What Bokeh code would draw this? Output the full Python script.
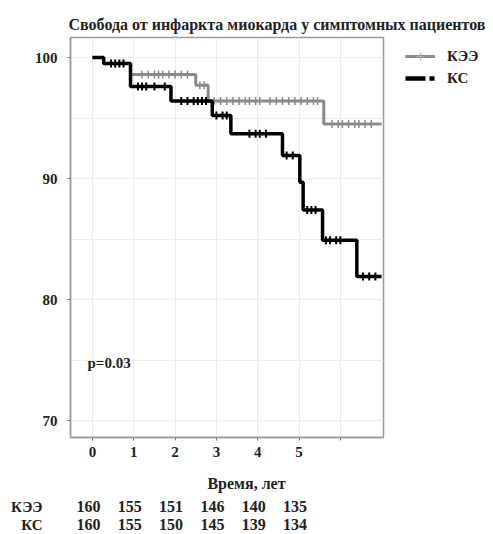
import numpy as np
from bokeh.plotting import figure
from bokeh.layouts import column
from bokeh.models import (Range1d, FixedTicker, Legend, LegendItem, Title)
from bokeh.core.properties import value
from bokeh.embed import file_html
from bokeh.resources import INLINE

# ---- data ----
title_text = "Свобода от инфаркта миокарда у симптомных пациентов"
groups = ["КЭЭ", "КС"]
kee_t = [0, 0.27, 0.92, 2.5, 2.8, 5.6, 7.0]
kee_s = [100, 99.5, 98.6, 97.7, 96.4, 94.5, 94.5]
ks_t = [0, 0.27, 0.92, 1.9, 2.9, 3.35, 4.6, 5.02, 5.1, 5.57, 6.4, 7.0]
ks_s = [100, 99.5, 97.6, 96.4, 95.2, 93.7, 91.9, 89.7, 87.4, 84.9, 81.9, 81.9]
kee_cens = [0.45, 0.55, 0.65, 0.75, 1.2, 1.35, 1.5, 1.6, 1.7, 1.85, 2.0, 2.15, 2.3,
            2.6, 2.7, 2.95, 3.1, 3.25, 3.4, 3.55, 3.7, 3.8, 3.95, 4.05, 4.3, 4.45,
            4.6, 4.75, 4.9, 5.05, 5.2, 5.35, 5.45, 5.8, 5.95, 6.05, 6.2, 6.35, 6.45,
            6.6, 6.75]
ks_cens = [0.45, 0.55, 0.65, 0.75, 1.1, 1.2, 1.3, 1.5, 1.75, 2.15, 2.3, 2.45, 2.55,
           2.65, 2.75, 3.0, 3.15, 3.25, 3.8, 3.95, 4.05, 4.2, 4.7, 4.85, 5.2, 5.3,
           5.4, 5.65, 5.75, 5.9, 6.0, 6.55, 6.7, 6.85]
x_ticks = [0, 1, 2, 3, 4, 5, 6]
x_tick_labels = ["0", "1", "2", "3", "4", "5", ""]
y_ticks = [70, 80, 90, 100]
risk_times = [0, 1, 2, 3, 4, 5]
risk_kee = [160, 155, 151, 146, 140, 135]
risk_ks = [160, 155, 150, 145, 139, 134]
p_text = "p=0.03"
x_label = "Время, лет"

# ---- layout helpers (page px -> data) ----
X0, PXT = 92.0, 41.3
Y0, PXY = 57.0, 12.1
def dx(px):
    return (px - X0) / PXT
def dy(py):
    return 100 - (py - Y0) / PXY

FONT = "Liberation Serif"
GRAY = "#8a8a8a"
TXT = "#222222"
W = 493
L, R = 70, 383
TOP_H = 466

p = figure(frame_width=R - L, frame_height=400,
           min_border_left=L, min_border_right=W - R, min_border_top=37,
           min_border_bottom=TOP_H - 437,
           x_range=Range1d(dx(L), dx(R)), y_range=Range1d(dy(437), dy(37)),
           output_backend="svg", toolbar_location=None, tools="")

p.outline_line_color = "#9a9a9a"
p.outline_line_width = 1.5
p.border_fill_color = "white"

# title
p.title = Title(text=title_text, align="left", offset=-2, standoff=10,
                text_font=FONT, text_font_style="bold", text_font_size="16px",
                text_color=TXT)

# grids
p.xgrid.ticker = FixedTicker(ticks=x_ticks)
p.ygrid.ticker = FixedTicker(ticks=y_ticks, minor_ticks=[75, 85, 95])
for g in (p.xgrid, p.ygrid):
    g.grid_line_color = "#ececec"
p.ygrid.minor_grid_line_color = "#ececec"

# axes
p.xaxis.ticker = FixedTicker(ticks=x_ticks)
p.xaxis.major_label_overrides = {t: l for t, l in zip(x_ticks, x_tick_labels)}
p.yaxis.ticker = FixedTicker(ticks=y_ticks)
for ax in (p.xaxis, p.yaxis):
    ax.axis_line_color = "#9a9a9a"
    ax.axis_line_width = 1.5
    ax.major_tick_line_color = "#777777"
    ax.major_tick_in = 0
    ax.major_tick_out = 3
    ax.minor_tick_line_color = None
    ax.major_label_text_font = FONT
    ax.major_label_text_font_style = "bold"
    ax.major_label_text_font_size = "15px"
    ax.major_label_text_color = TXT
p.yaxis.major_label_standoff = 10
p.xaxis.major_label_standoff = 6

# curves
p.step(kee_t, kee_s, mode="after", line_color=GRAY, line_width=3)
kee_cy = [kee_s[np.searchsorted(kee_t, t, side="right") - 1] for t in kee_cens]
p.scatter(kee_cens, kee_cy, marker="dash", angle=np.pi / 2, size=8,
          line_color=GRAY, line_width=1.5)
p.step(ks_t, ks_s, mode="after", line_color="black", line_width=3.5)
ks_cy = [ks_s[np.searchsorted(ks_t, t, side="right") - 1] for t in ks_cens]
p.scatter(ks_cens, ks_cy, marker="dash", angle=np.pi / 2, size=8,
          line_color="black", line_width=2)

# p-value (inside frame)
p.text(x=[dx(87)], y=[dy(362)], text=[p_text], text_align="left",
       text_baseline="middle", text_font=value(FONT), text_font_style="bold",
       text_font_size="15px", text_color=TXT)

# legend proxies: drawn far outside the visible ranges
off_x, off_y = [-50, -49], [0, 0]
lg1 = p.line(off_x, off_y, line_color=GRAY, line_width=3)
lg1m = p.scatter(off_x[:1], off_y[:1], marker="cross", size=10,
                 line_color="#b0b0b0", line_width=1.2)
lg2 = p.line(off_x, off_y, line_color="black", line_width=4.5, line_dash="20 4 5")
legend = Legend(items=[LegendItem(label=groups[0], renderers=[lg1, lg1m]),
                       LegendItem(label=groups[1], renderers=[lg2])],
                location=(22, 349), padding=0, margin=0, spacing=2,
                glyph_width=30, glyph_height=20, label_standoff=12,
                label_text_font=FONT, label_text_font_style="bold",
                label_text_font_size="15px", label_text_color=TXT,
                border_line_color=None, background_fill_alpha=0)
p.add_layout(legend, "right")

# x-axis title and risk table: second figure with the same frame columns
TAB_H = 534 - TOP_H
row_y = [506 - TOP_H, 524 - TOP_H]
t = figure(frame_width=R - L, frame_height=TAB_H, min_border_left=L,
           min_border_right=W - R, min_border_top=0, min_border_bottom=0,
           x_range=Range1d(dx(L), dx(R)), y_range=Range1d(TAB_H, 0),
           x_axis_type=None,
           output_backend="svg", toolbar_location=None, tools="")
t.outline_line_color = None
t.grid.visible = False
t.yaxis.ticker = FixedTicker(ticks=row_y)
t.yaxis.major_label_overrides = {y: g for y, g in zip(row_y, groups)}
t.yaxis.axis_line_color = None
t.yaxis.major_tick_line_color = None
t.yaxis.minor_tick_line_color = None
t.yaxis.major_label_standoff = L - 48
t.yaxis.major_label_text_font = FONT
t.yaxis.major_label_text_font_style = "bold"
t.yaxis.major_label_text_font_size = "15px"
t.yaxis.major_label_text_color = TXT

t.text(x=[dx(246)], y=[483 - TOP_H], text=[x_label], text_align="center",
       text_baseline="middle", text_font=value(FONT), text_font_style="bold",
       text_font_size="16px", text_color=TXT)
for counts, ypx in zip([risk_kee, risk_ks], row_y):
    t.text(x=risk_times, y=[ypx] * len(risk_times), text=[str(c) for c in counts],
           x_offset=-4, text_align="center", text_baseline="middle",
           text_font=value(FONT), text_font_style="bold",
           text_font_size="16px", text_color=TXT)

layout = column(p, t, spacing=0)
open("out.html", "w").write(file_html(layout, INLINE))
